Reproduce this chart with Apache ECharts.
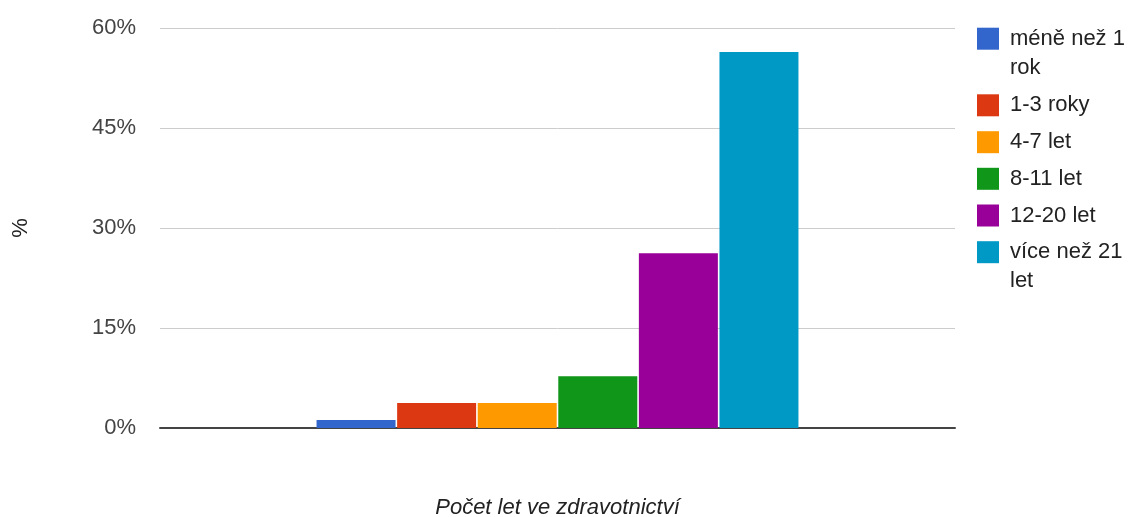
<!DOCTYPE html>
<html>
<head>
<meta charset="utf-8">
<script src="https://cdn.jsdelivr.net/npm/echarts@6/dist/echarts.min.js"></script>
<style>
html,body{margin:0;padding:0;background:#fff;}
#chart{width:1128px;height:517px;}
</style>
</head>
<body>
<div id="chart"></div>
<script>
const categories = ['Počet let ve zdravotnictví'];
const seriesNames = ['méně než 1 rok', '1-3 roky', '4-7 let', '8-11 let', '12-20 let', 'více než 21 let'];
const seriesValues = [1.2, 3.75, 3.75, 7.75, 26.2, 56.4];
const seriesColors = ['#3366cc', '#dc3912', '#ff9900', '#109618', '#990099', '#0099c6'];
const yTicks = [0, 15, 30, 45, 60];
const xTitle = 'Počet let ve zdravotnictví';
const yTitle = '%';

const FONT = '"Liberation Sans", Arial, sans-serif';
const LH = 29;
const legendIconTops = [27.7, 94.3, 131.2, 167.8, 204.5, 241.2];
const twoLine = [true, false, false, false, false, true];

const legends = seriesNames.map(function (name, i) {
  return {
    orient: 'vertical',
    left: 977,
    top: twoLine[i] ? legendIconTops[i] + 11 - LH * 1.5 : legendIconTops[i] + 11 - LH / 2,
    padding: 0,
    itemWidth: 22,
    itemHeight: 22,
    icon: 'rect',
    selectedMode: false,
    data: [name],
    formatter: function (n) {
      return twoLine[i] ? '\n' + n.replace(/ (\S+)$/, '\n$1') : n;
    },
    textStyle: {
      fontFamily: FONT,
      fontSize: 22,
      color: '#222222',
      lineHeight: LH,
      padding: [0, 0, 0, 6]
    }
  };
});

const series = seriesNames.map(function (name, i) {
  return {
    type: 'bar',
    name: name,
    data: [seriesValues[i]],
    barWidth: 79,
    barGap: '2%',
    itemStyle: { color: seriesColors[i] },
    emphasis: { disabled: true },
    animation: false
  };
});

const chart = echarts.init(document.getElementById('chart'), null, { renderer: 'canvas' });
chart.setOption({
  animation: false,
  color: seriesColors,
  legend: legends,
  grid: { left: 160, right: 173, top: 28, bottom: 89, containLabel: false, outerBoundsMode: 'none' },
  xAxis: {
    type: 'category',
    data: categories,
    name: xTitle,
    nameLocation: 'middle',
    nameGap: 69,
    nameTextStyle: { fontFamily: FONT, fontSize: 22, fontStyle: 'italic', color: '#222222' },
    axisLine: { show: true, lineStyle: { color: '#444444', width: 2 } },
    axisTick: { show: false },
    axisLabel: { show: false },
    splitLine: { show: false }
  },
  yAxis: {
    type: 'value',
    min: yTicks[0],
    max: yTicks[yTicks.length - 1],
    interval: yTicks[1] - yTicks[0],
    name: yTitle,
    nameLocation: 'middle',
    nameGap: 128,
    nameTextStyle: { fontFamily: FONT, fontSize: 22, color: '#222222' },
    axisLine: { show: false },
    axisTick: { show: false },
    axisLabel: {
      formatter: '{value}%',
      margin: 24,
      fontFamily: FONT,
      fontSize: 22,
      color: '#444444'
    },
    splitLine: { lineStyle: { color: '#cccccc', width: 1 } }
  },
  series: series
});
</script>
</body>
</html>
